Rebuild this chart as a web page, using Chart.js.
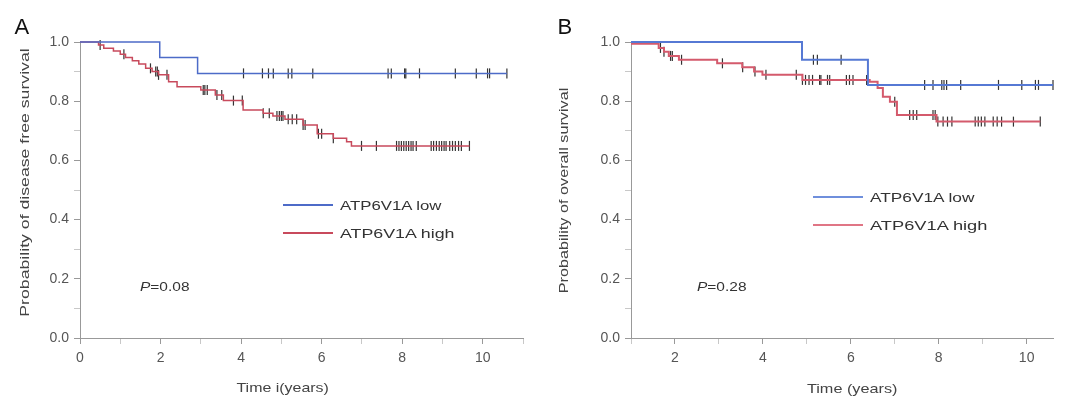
<!DOCTYPE html>
<html>
<head>
<meta charset="utf-8">
<script src="https://cdn.jsdelivr.net/npm/chart.js@4.4.0/dist/chart.umd.min.js"></script>
<style>
  body { margin: 0; background: #fff; width: 1067px; height: 397px; overflow: hidden; position: relative; font-family: 'Liberation Sans', Arial, sans-serif; color: #333; }
  canvas { position: absolute; top: 0; }
  .txt { position: absolute; white-space: nowrap; line-height: 1; }
  .key { position: absolute; height: 2px; }
</style>
</head>
<body>
<canvas id="chartA" width="533" height="397" style="left:0"></canvas>
<canvas id="chartB" width="534" height="397" style="left:533px"></canvas>

<script>
// Panel A: disease free survival (step points: time, survival from that time on)
const lowTimesA = [0, 1.98, 2.92, 10.6];
const lowSurvA = [1.0, 0.948, 0.894, 0.894];
const lowCensorA = [4.06, 4.53, 4.68, 4.80, 5.17, 5.26, 5.78, 7.65, 7.73, 8.06, 8.09, 8.43, 9.32, 9.84, 10.12, 10.17, 10.6];

const highTimesA = [0, 0.46, 0.59, 0.83, 1.0, 1.13, 1.30, 1.46, 1.63, 1.79, 1.95, 2.20, 2.41, 3.0, 3.36, 3.56, 4.05, 4.55, 4.79, 5.09, 5.54, 5.89, 6.29, 6.62, 6.74, 9.67];
const highSurvA = [1.0, 0.99, 0.979, 0.97, 0.959, 0.948, 0.937, 0.926, 0.911, 0.9, 0.889, 0.866, 0.849, 0.838, 0.821, 0.802, 0.77, 0.759, 0.75, 0.739, 0.72, 0.69, 0.675, 0.663, 0.649, 0.649];
const highCensorA = [0.5, 1.09, 1.75, 1.88, 1.92, 1.95, 2.16, 3.06, 3.1, 3.16, 3.4, 3.52, 3.81, 4.03, 4.55, 4.7, 4.89, 4.95, 5.0, 5.04, 5.17, 5.27, 5.38, 5.54, 5.59, 5.92, 6.0, 6.29, 6.99, 7.36, 7.86, 7.92, 7.98, 8.04, 8.1, 8.16, 8.22, 8.27, 8.35, 8.72, 8.78, 8.85, 8.92, 8.98, 9.04, 9.09, 9.18, 9.25, 9.32, 9.4, 9.47, 9.67];

// Panel B: overall survival
const lowTimesB = [1, 4.89, 6.39, 10.6];
const lowSurvB = [1.0, 0.94, 0.855, 0.855];
const lowCensorB = [5.15, 5.24, 5.78, 7.68, 7.87, 8.07, 8.12, 8.18, 8.5, 9.36, 9.89, 10.2, 10.27, 10.6];

const highTimesB = [1, 1.63, 1.75, 1.86, 2.09, 2.96, 3.53, 3.80, 3.99, 4.9, 6.43, 6.61, 6.73, 6.89, 7.05, 7.95, 10.31];
const highSurvB = [0.994, 0.98, 0.967, 0.953, 0.94, 0.928, 0.915, 0.9, 0.889, 0.872, 0.866, 0.845, 0.815, 0.798, 0.753, 0.731, 0.731];
const highCensorB = [1.67, 1.75, 1.9, 1.94, 2.15, 3.08, 3.54, 3.82, 4.07, 4.76, 4.9, 4.97, 5.05, 5.13, 5.29, 5.32, 5.47, 5.52, 5.9, 5.97, 6.05, 6.36, 7.0, 7.34, 7.42, 7.5, 7.87, 7.92, 7.98, 8.1, 8.2, 8.3, 8.83, 8.9, 8.97, 9.05, 9.24, 9.33, 9.43, 9.7, 10.31];

const seriesNames = ['ATP6V1A low', 'ATP6V1A high'];
const pValues = ['0.08', '0.28'];

const FONT = "'Liberation Sans', Arial, sans-serif";

function stepPoints(times, surv) {
    return times.map((t, i) => ({ x: t, y: surv[i] }));
}

// survival value of the step curve at time t
function survAt(times, surv, t) {
    let s = surv[0];
    for (let i = 0; i < times.length; i++) {
        if (times[i] <= t + 1e-9) s = surv[i];
    }
    return s;
}

function censorPoints(times, surv, censor) {
    return censor.map(t => ({ x: t, y: survAt(times, surv, t) }));
}

function makeChart(id, cfg) {
    const tickColor = ctx => (ctx.tick && ctx.tick.label !== '') ? '#999' : '#c8c8c8';
    new Chart(document.getElementById(id), {
        type: 'line',
        data: {
            datasets: [
                { data: stepPoints(cfg.lowT, cfg.lowS), borderColor: cfg.blue, borderWidth: cfg.lw, stepped: true, pointRadius: 0, fill: false, clip: false },
                { data: stepPoints(cfg.highT, cfg.highS), borderColor: cfg.red, borderWidth: cfg.lw, stepped: true, pointRadius: 0, fill: false, clip: false },
                { type: 'scatter', data: censorPoints(cfg.lowT, cfg.lowS, cfg.lowC), showLine: false, pointStyle: 'line', rotation: 90, pointRadius: 5, pointBorderWidth: 1.2, pointBorderColor: '#333', clip: false },
                { type: 'scatter', data: censorPoints(cfg.highT, cfg.highS, cfg.highC), showLine: false, pointStyle: 'line', rotation: 90, pointRadius: 5, pointBorderWidth: 1.2, pointBorderColor: '#333', clip: false }
            ]
        },
        options: {
            responsive: false,
            animation: false,
            events: [],
            layout: { padding: { left: 0, right: cfg.padRight, top: 42, bottom: 0 } },
            plugins: { legend: { display: false }, tooltip: { enabled: false } },
            scales: {
                x: {
                    type: 'linear',
                    min: cfg.xMin,
                    max: cfg.xMax,
                    afterFit: s => { s.height = 59; },
                    border: { color: '#999', width: 1 },
                    grid: { drawOnChartArea: false, tickLength: 6, tickColor: tickColor },
                    ticks: {
                        stepSize: 1,
                        includeBounds: false,
                        padding: 6,
                        color: '#555',
                        font: { family: FONT, size: 14 },
                        maxRotation: 0,
                        autoSkip: false,
                        callback: v => (Math.abs(v - Math.round(v)) < 1e-6 && Math.round(v) % 2 === 0) ? String(Math.round(v)) : ''
                    }
                },
                y: {
                    min: 0,
                    max: 1,
                    afterFit: s => { s.width = cfg.yWidth; },
                    border: { color: '#999', width: 1 },
                    grid: { drawOnChartArea: false, tickLength: 6, tickColor: tickColor },
                    ticks: {
                        stepSize: 0.1,
                        padding: 5,
                        color: '#555',
                        font: { family: FONT, size: 14 },
                        autoSkip: false,
                        callback: v => Math.round(v * 10) % 2 === 0 ? v.toFixed(1) : ''
                    }
                }
            }
        }
    });
}

makeChart('chartA', {
    lowT: lowTimesA, lowS: lowSurvA, lowC: lowCensorA,
    highT: highTimesA, highS: highSurvA, highC: highCensorA,
    blue: '#4d6bc8', red: '#c84a5c', lw: 1.5,
    xMin: 0, xMax: 11, yWidth: 80, padRight: 10
});

makeChart('chartB', {
    lowT: lowTimesB, lowS: lowSurvB, lowC: lowCensorB,
    highT: highTimesB, highS: highSurvB, highC: highCensorB,
    blue: '#5679d4', red: '#d45a6c', lw: 2,
    xMin: 1, xMax: 10.6, yWidth: 98, padRight: 14
});

// text overlays
function placeText(html, cx, cy, size, targetW, rot, extra) {
    const el = document.createElement('div');
    el.className = 'txt';
    el.innerHTML = html;
    el.style.fontSize = size + 'px';
    if (extra) Object.assign(el.style, extra);
    document.body.appendChild(el);
    const w = el.offsetWidth, h = el.offsetHeight;
    const sx = targetW ? targetW / w : 1;
    el.style.left = (cx - w / 2) + 'px';
    el.style.top = (cy - h / 2) + 'px';
    el.style.transform = (rot ? 'rotate(' + rot + 'deg) ' : '') + 'scaleX(' + sx + ')';
    return el;
}

function placeLeft(html, x, cy, size, targetW, extra) {
    const el = document.createElement('div');
    el.className = 'txt';
    el.innerHTML = html;
    el.style.fontSize = size + 'px';
    if (extra) Object.assign(el.style, extra);
    document.body.appendChild(el);
    const w = el.offsetWidth, h = el.offsetHeight;
    el.style.transformOrigin = '0 50%';
    el.style.left = x + 'px';
    el.style.top = (cy - h / 2) + 'px';
    if (targetW) el.style.transform = 'scaleX(' + (targetW / w) + ')';
    return el;
}

function keyLine(x, y, w, color, lw) {
    const d = document.createElement('div');
    d.className = 'key';
    d.style.left = x + 'px';
    d.style.top = (y - lw / 2) + 'px';
    d.style.width = w + 'px';
    d.style.height = lw + 'px';
    d.style.background = color;
    document.body.appendChild(d);
}

// panel letters
placeText('A', 22, 27, 22, 0, 0, { color: '#111' });
placeText('B', 565, 27, 22, 0, 0, { color: '#111' });

// axis titles
placeText('Probability of disease free survival', 24, 182, 13, 268, -90, { color: '#444' });
placeText('Probability of overall survival', 563, 190, 13, 206, -90, { color: '#444' });
placeText('Time i(years)', 282, 387, 13, 92, 0, { color: '#444' });
placeText('Time (years)', 852, 388, 13, 90, 0, { color: '#444' });

// legends
keyLine(283, 205, 50, '#4d6bc8', 1.5);
keyLine(283, 233, 50, '#c84a5c', 1.5);
placeLeft(seriesNames[0], 340, 205, 13, 102, { color: '#333' });
placeLeft(seriesNames[1], 340, 233, 13, 115, { color: '#333' });

keyLine(813, 197, 50, '#6f8fdc', 2.5);
keyLine(813, 225, 50, '#e07585', 2.5);
placeLeft(seriesNames[0], 870, 197, 13, 105, { color: '#333' });
placeLeft(seriesNames[1], 870, 225, 13, 118, { color: '#333' });

// p values
placeLeft('<i>P</i>=' + pValues[0], 140, 286, 13, 50, { color: '#333' });
placeLeft('<i>P</i>=' + pValues[1], 697, 286, 13, 50, { color: '#333' });
</script>
</body>
</html>
